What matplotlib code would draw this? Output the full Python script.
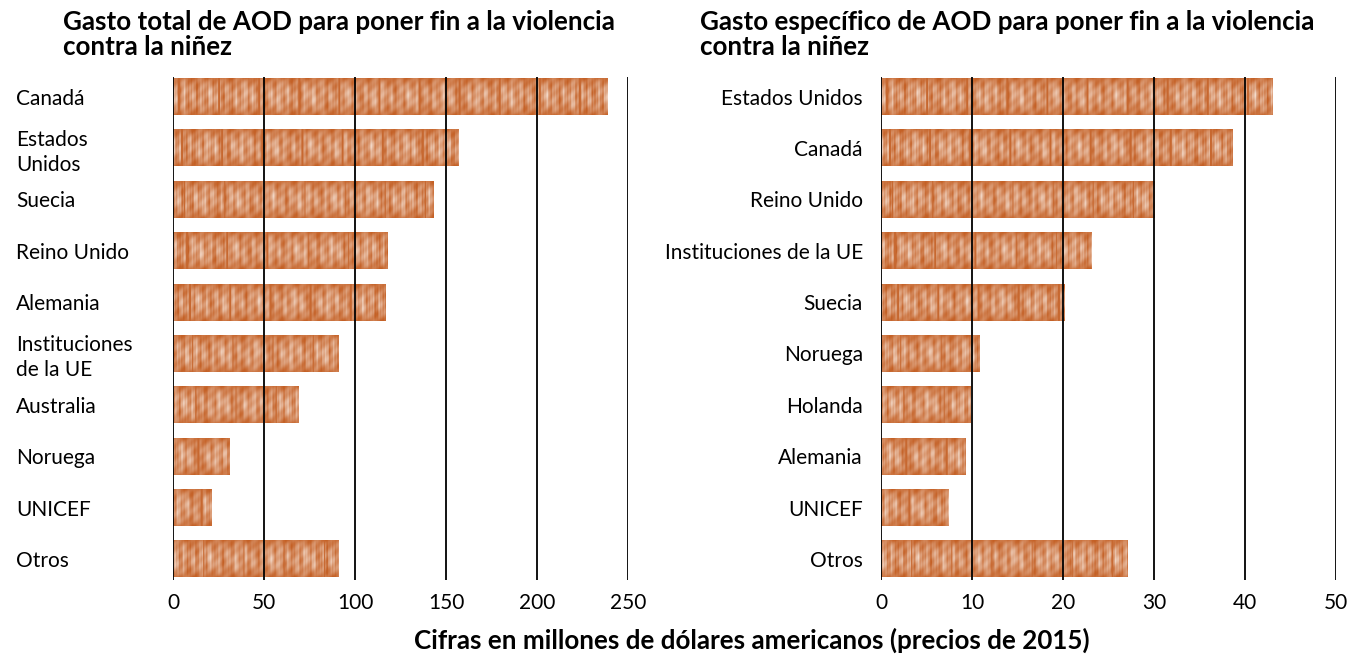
import numpy as np
import matplotlib
matplotlib.use("Agg")
import matplotlib.pyplot as plt

plt.rcParams["font.family"] = ["Lato", "DejaVu Sans"]

# data
total_labels = ["Canadá", "Estados\nUnidos", "Suecia", "Reino Unido", "Alemania",
                "Instituciones\nde la UE", "Australia", "Noruega", "UNICEF", "Otros"]
total_values = [238.5, 157, 143, 118, 117, 91, 69, 31, 21, 91]
total_ticks = [0, 50, 100, 150, 200, 250]

specific_labels = ["Estados Unidos", "Canadá", "Reino Unido", "Instituciones de la UE",
                   "Suecia", "Noruega", "Holanda", "Alemania", "UNICEF", "Otros"]
specific_values = [43, 38.6, 30.1, 23.1, 20.2, 10.8, 9.8, 9.3, 7.4, 27.1]
specific_ticks = [0, 10, 20, 30, 40, 50]

title_total = "Gasto total de AOD para poner fin a la violencia\ncontra la niñez"
title_specific = "Gasto específico de AOD para poner fin a la violencia\ncontra la niñez"
xlabel = "Cifras en millones de dólares americanos (precios de 2015)"

DARK = np.array([0.77, 0.38, 0.15])
LIGHT = np.array([0.99, 0.95, 0.92])


def make_texture(w, h, phase):
    # streaky "stacked coins" look, deterministic
    x = np.arange(w)[None, :] + phase
    y = np.linspace(-1, 1, h)[:, None]
    streak = (0.45 + 0.22 * np.sin(x * 0.73) + 0.14 * np.sin(x * 2.31 + 1.0)
              + 0.09 * np.sin(x * 5.07 + 2.0) + 0.10 * np.sin(x * 0.19 + 0.5))
    profile = 1 - 0.85 * y ** 2
    spots = 0.14 * np.sin(x * 0.41 + 3 * y) * np.sin(y * 7 + x * 0.09)
    light = 0.08 + 0.7 * streak * profile + spots
    edges = np.sin(x * 0.157 + 0.7) > 0.993
    light = np.where(edges, 0.05, light)
    light = np.clip(light, 0, 1)[..., None]
    return DARK * (1 - light) + LIGHT * light


def draw_panel(ax, labels, values, ticks, left_labels):
    pos = np.arange(len(values))
    bars = ax.barh(pos, values, height=0.72, color="none", zorder=1)
    xmax = ticks[-1]
    for i, b in enumerate(bars):
        wpx = max(int(b.get_width() / xmax * 455), 2)
        tex = make_texture(wpx, 38, i * 37.3)
        ax.imshow(tex, extent=(b.get_x(), b.get_x() + b.get_width(),
                               b.get_y() + b.get_height(), b.get_y()),
                  aspect="auto", interpolation="bilinear", zorder=1)
    ax.set_xlim(0, xmax)
    ax.set_ylim(len(values) - 1 + 0.41, -0.38)
    for t in ticks:
        ax.axvline(t, color="black", lw=1.3, zorder=3)
    ax.set_xticks(ticks)
    ax.tick_params(axis="x", length=0, pad=9, labelsize=15)
    ax.set_yticks(pos, labels)
    if left_labels:
        ax.tick_params(axis="y", length=0, pad=113, labelsize=15)
        for lab in ax.get_yticklabels():
            lab.set_ha("left")
            lab.set_linespacing(1.3)
    else:
        ax.tick_params(axis="y", length=0, pad=13, labelsize=15)
    for s in ax.spines.values():
        s.set_visible(False)


fig = plt.figure(figsize=(13.52, 6.68), dpi=100)
ax1 = fig.add_axes([0.128, 0.1317, 0.3365, 0.753])
ax2 = fig.add_axes([0.6516, 0.1317, 0.3365, 0.753])

draw_panel(ax1, total_labels, total_values, total_ticks, True)
draw_panel(ax2, specific_labels, specific_values, specific_ticks, False)

fig.text(0.0466, 0.985, title_total, ha="left", va="top", fontsize=18.7,
         fontweight="bold", linespacing=1.05)
fig.text(0.5178, 0.985, title_specific, ha="left", va="top", fontsize=18.7,
         fontweight="bold", linespacing=1.05)
fig.text(0.556, 0.022, xlabel, ha="center", va="bottom", fontsize=18.7,
         fontweight="bold")

fig.savefig("out.png", dpi=100)
